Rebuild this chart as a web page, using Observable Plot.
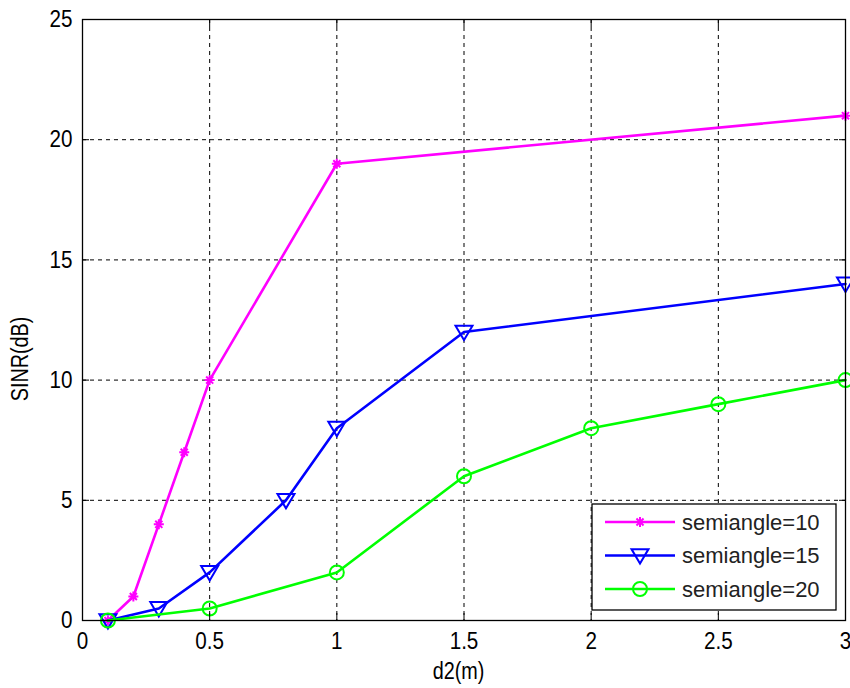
<!DOCTYPE html>
<html><head><meta charset="utf-8">
<script src="https://cdn.jsdelivr.net/npm/d3@7"></script>
<script src="https://cdn.jsdelivr.net/npm/@observablehq/plot@0.6"></script>
<style>
body{margin:0;background:#fff}
#chart{width:850px;height:688px}
</style>
</head><body><div id="chart"></div>
<script>
// ---- data ----
const seriesNames = ["semiangle=10", "semiangle=15", "semiangle=20"];
const d2_s10 = [0.1, 0.2, 0.3, 0.4, 0.5, 1, 3];
const sinr_s10 = [0, 1, 4, 7, 10, 19, 21];
const d2_s15 = [0.1, 0.3, 0.5, 0.8, 1, 1.5, 3];
const sinr_s15 = [0, 0.5, 2, 5, 8, 12, 14];
const d2_s20 = [0.1, 0.5, 1, 1.5, 2, 2.5, 3];
const sinr_s20 = [0, 0.5, 2, 6, 8, 9, 10];
const xTicks = [0, 0.5, 1, 1.5, 2, 2.5, 3];
const yTicks = [0, 5, 10, 15, 20, 25];
const xLabel = "d2(m)";
const yLabel = "SINR(dB)";

// ---- styles ----
const colors = ["#ff00ff", "#0000ff", "#00ff00"];
const font = "'Liberation Sans',Arial,sans-serif";

const triDown = {draw(ctx, size) {
  const r = Math.sqrt(size / Math.PI);
  ctx.moveTo(-r, -r * 0.75); ctx.lineTo(r, -r * 0.75); ctx.lineTo(0, r * 0.95); ctx.closePath();
}};
const asterisk = {draw(ctx, size) {
  const r = Math.sqrt(size / Math.PI);
  const d = r * 0.7071;
  ctx.moveTo(-r, 0); ctx.lineTo(r, 0);
  ctx.moveTo(0, -r); ctx.lineTo(0, r);
  ctx.moveTo(-d, -d); ctx.lineTo(d, d);
  ctx.moveTo(-d, d); ctx.lineTo(d, -d);
}};
const symbols = [asterisk, triDown, d3.symbolCircle];
const radii = [5, 8.5, 7];

const table = [];
[[d2_s10, sinr_s10], [d2_s15, sinr_s15], [d2_s20, sinr_s20]].forEach(([xs, ys], i) => {
  xs.forEach((x, j) => table.push({series: seriesNames[i], d2: x, sinr: ys[j]}));
});

const margin = {left: 82, right: 5, top: 19, bottom: 68};
const W = 850, H = 688;
const fmt = d => String(d);

const marks = [
  Plot.gridX(xTicks, {stroke: "#000", strokeOpacity: 1, strokeDasharray: "4,4", strokeWidth: 1}),
  Plot.gridY(yTicks, {stroke: "#000", strokeOpacity: 1, strokeDasharray: "4,4", strokeWidth: 1}),
];
seriesNames.forEach((s, i) => {
  const rows = table.filter(d => d.series === s);
  marks.push(Plot.line(rows, {x: "d2", y: "sinr", stroke: colors[i], strokeWidth: 2.6}));
  marks.push(Plot.dot(rows, {x: "d2", y: "sinr", symbol: symbols[i], r: radii[i], stroke: colors[i], fill: "none", strokeWidth: 2}));
});
marks.push(
  Plot.frame({stroke: "#000", strokeWidth: 1.3}),
  Plot.axisX(xTicks, {tickSize: 0, tickPadding: 11, fontSize: 24, fontFamily: font, tickFormat: fmt, label: null}),
  Plot.axisY(yTicks, {tickSize: 0, tickPadding: 10, fontSize: 24, fontFamily: font, tickFormat: fmt, label: null}),
  Plot.axisX(xTicks, {anchor: "bottom", tickSize: -7, text: null, label: null}),
  Plot.axisX(xTicks, {anchor: "top", tickSize: -7, text: null, label: null}),
  Plot.axisY(yTicks, {anchor: "left", tickSize: -7, text: null, label: null}),
  Plot.axisY(yTicks, {anchor: "right", tickSize: -7, text: null, label: null})
);

const chart = Plot.plot({
  width: W, height: H,
  marginLeft: margin.left, marginRight: margin.right, marginTop: margin.top, marginBottom: margin.bottom,
  style: {background: "#fff", color: "#000", overflow: "visible"},
  x: {domain: [0, 3], ticks: xTicks},
  y: {domain: [0, 25], ticks: yTicks},
  marks
});
document.getElementById("chart").appendChild(chart);

const svg = d3.select(chart);
const condense = (sel, k) => sel.each(function() {
  const len = this.getComputedTextLength();
  d3.select(this).attr("textLength", len * k).attr("lengthAdjust", "spacingAndGlyphs");
});
// condense tick labels (narrow look of the original)
condense(svg.selectAll("g[aria-label$='tick label'] text"), 0.86);

// axis labels
const right = W - margin.right, bottom = H - margin.bottom;
const xl = svg.append("text").attr("x", (margin.left + right) / 2 - 5).attr("y", bottom + 59)
  .attr("text-anchor", "middle").attr("font-family", font).attr("font-size", 23).attr("fill", "#000").text(xLabel);
const yl = svg.append("text").attr("transform", `translate(28,359) rotate(-90)`)
  .attr("text-anchor", "middle").attr("font-family", font).attr("font-size", 23).attr("fill", "#000").text(yLabel);
condense(xl, 0.86); condense(yl, 0.86);

// ---- legend inside the plot (bottom-right) ----
const lx = right - 253, ly = bottom - 116, lw = 244, lh = 106;
const g = svg.append("g");
g.append("rect").attr("x", lx).attr("y", ly).attr("width", lw).attr("height", lh)
  .attr("fill", "#fff").attr("stroke", "#000").attr("stroke-width", 1.3);
seriesNames.forEach((s, i) => {
  const cy = ly + 18 + i * 33.5;
  g.append("line").attr("x1", lx + 13).attr("x2", lx + 83).attr("y1", cy).attr("y2", cy)
    .attr("stroke", colors[i]).attr("stroke-width", 2.6);
  g.append("path").attr("d", d3.symbol(symbols[i], radii[i] * radii[i] * Math.PI)())
    .attr("transform", `translate(${lx + 48},${cy})`)
    .attr("fill", "none").attr("stroke", colors[i]).attr("stroke-width", 2);
  g.append("text").attr("x", lx + 90).attr("y", cy).attr("dy", "0.35em").attr("text-anchor", "start")
    .attr("font-family", font).attr("font-size", 22).attr("fill", "#222").text(s);
});
</script>
</body></html>
